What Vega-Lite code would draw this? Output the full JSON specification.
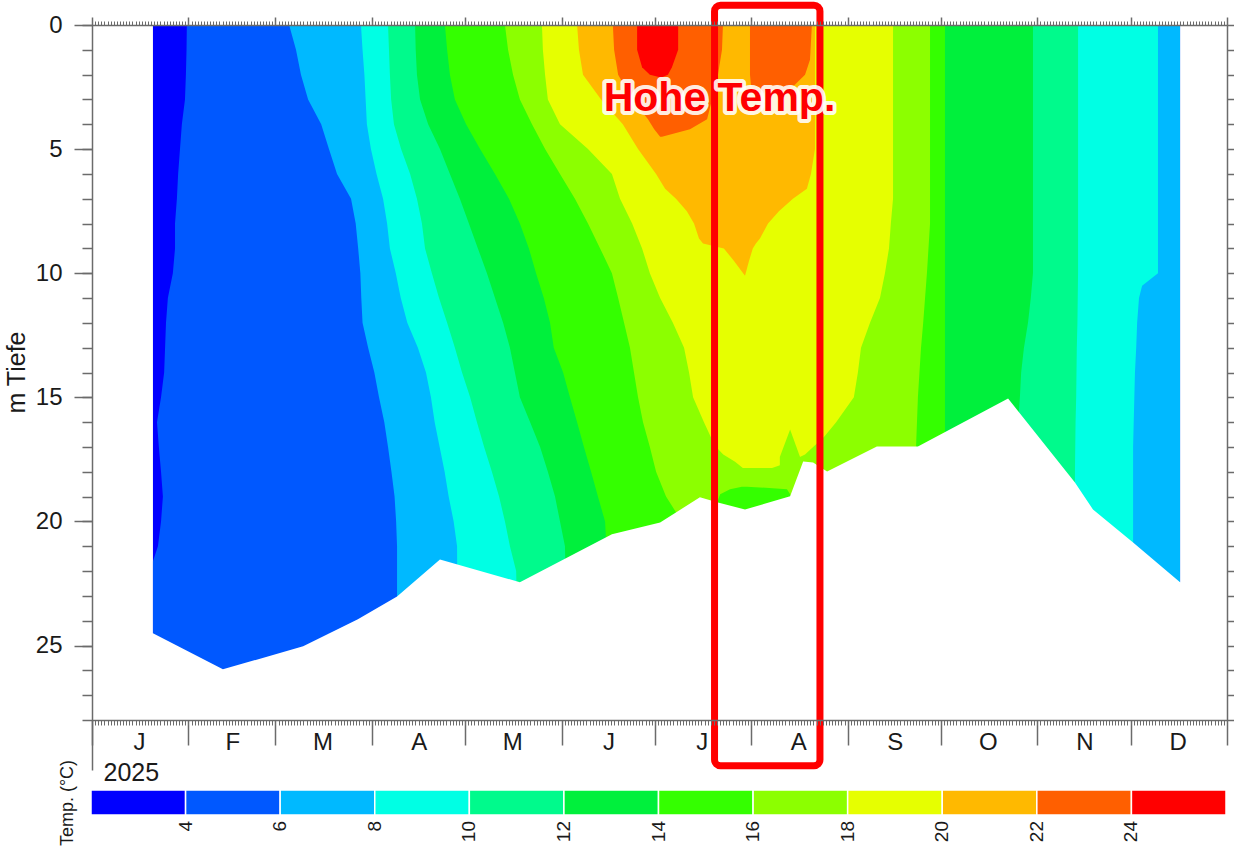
{
  "$schema": "https://vega.github.io/schema/vega-lite/v6.json",
  "width": 1135,
  "height": 695,
  "autosize": {"type": "none"},
  "padding": {"left": 92, "top": 25, "right": 7, "bottom": 135},
  "background": "white",
  "config": {
    "view": {"stroke": null},
    "font": "Liberation Sans"
  },
  "datasets": {
    "bands": [
      {"g": "r3", "t": 3, "d": 0, "a": 19.6, "b": 349.9},
      {"g": "r3", "t": 3, "d": 28, "a": 19.6, "b": 349.9},

      {"g": "r5", "t": 5, "d": 0, "a": 30.5, "b": 349.9},
      {"g": "r5", "t": 5, "d": 1, "a": 30.4, "b": 349.9},
      {"g": "r5", "t": 5, "d": 2, "a": 30.2, "b": 349.9},
      {"g": "r5", "t": 5, "d": 3, "a": 29.9, "b": 349.9},
      {"g": "r5", "t": 5, "d": 4, "a": 28.9, "b": 349.9},
      {"g": "r5", "t": 5, "d": 5, "a": 28.3, "b": 349.9},
      {"g": "r5", "t": 5, "d": 6, "a": 27.7, "b": 349.9},
      {"g": "r5", "t": 5, "d": 7, "a": 27.3, "b": 349.9},
      {"g": "r5", "t": 5, "d": 8, "a": 26.7, "b": 349.9},
      {"g": "r5", "t": 5, "d": 9, "a": 26.7, "b": 349.9},
      {"g": "r5", "t": 5, "d": 10, "a": 26.0, "b": 349.9},
      {"g": "r5", "t": 5, "d": 11, "a": 24.4, "b": 349.9},
      {"g": "r5", "t": 5, "d": 12, "a": 23.8, "b": 349.9},
      {"g": "r5", "t": 5, "d": 13, "a": 23.5, "b": 349.9},
      {"g": "r5", "t": 5, "d": 14, "a": 23.2, "b": 349.9},
      {"g": "r5", "t": 5, "d": 15, "a": 22.2, "b": 349.9},
      {"g": "r5", "t": 5, "d": 16, "a": 20.9, "b": 349.9},
      {"g": "r5", "t": 5, "d": 17, "a": 21.5, "b": 349.9},
      {"g": "r5", "t": 5, "d": 18, "a": 22.2, "b": 349.9},
      {"g": "r5", "t": 5, "d": 19, "a": 22.8, "b": 349.9},
      {"g": "r5", "t": 5, "d": 20, "a": 22.2, "b": 349.9},
      {"g": "r5", "t": 5, "d": 21, "a": 21.2, "b": 349.9},
      {"g": "r5", "t": 5, "d": 21.6, "a": 19.6, "b": 349.9},
      {"g": "r5", "t": 5, "d": 28, "a": 19.6, "b": 349.9},

      {"g": "r7", "t": 7, "d": 0, "a": 63.4, "b": 349.9},
      {"g": "r7", "t": 7, "d": 1, "a": 65.6, "b": 349.9},
      {"g": "r7", "t": 7, "d": 2, "a": 67.2, "b": 349.9},
      {"g": "r7", "t": 7, "d": 3, "a": 69.5, "b": 349.9},
      {"g": "r7", "t": 7, "d": 4, "a": 73.7, "b": 349.9},
      {"g": "r7", "t": 7, "d": 5, "a": 76.2, "b": 349.9},
      {"g": "r7", "t": 7, "d": 6, "a": 78.8, "b": 349.9},
      {"g": "r7", "t": 7, "d": 7, "a": 83.3, "b": 349.9},
      {"g": "r7", "t": 7, "d": 8, "a": 84.8, "b": 349.9},
      {"g": "r7", "t": 7, "d": 9, "a": 85.6, "b": 349.9},
      {"g": "r7", "t": 7, "d": 10, "a": 86.3, "b": 349.9},
      {"g": "r7", "t": 7, "d": 11, "a": 86.6, "b": 349.9},
      {"g": "r7", "t": 7, "d": 12, "a": 87.0, "b": 349.9},
      {"g": "r7", "t": 7, "d": 13, "a": 88.8, "b": 349.9},
      {"g": "r7", "t": 7, "d": 14, "a": 90.8, "b": 349.9},
      {"g": "r7", "t": 7, "d": 15, "a": 92.3, "b": 349.9},
      {"g": "r7", "t": 7, "d": 16, "a": 94.0, "b": 349.9},
      {"g": "r7", "t": 7, "d": 17, "a": 95.2, "b": 349.9},
      {"g": "r7", "t": 7, "d": 18, "a": 96.3, "b": 349.9},
      {"g": "r7", "t": 7, "d": 19, "a": 97.3, "b": 349.9},
      {"g": "r7", "t": 7, "d": 20, "a": 97.8, "b": 349.9},
      {"g": "r7", "t": 7, "d": 21, "a": 98.1, "b": 349.9},
      {"g": "r7", "t": 7, "d": 28, "a": 98.1, "b": 349.9},

      {"g": "r9", "t": 9, "d": 0, "a": 86.5, "b": 342.8},
      {"g": "r9", "t": 9, "d": 1, "a": 87.0, "b": 342.8},
      {"g": "r9", "t": 9, "d": 2, "a": 87.6, "b": 342.8},
      {"g": "r9", "t": 9, "d": 3, "a": 88.0, "b": 342.8},
      {"g": "r9", "t": 9, "d": 4, "a": 88.4, "b": 342.8},
      {"g": "r9", "t": 9, "d": 5, "a": 89.7, "b": 342.8},
      {"g": "r9", "t": 9, "d": 6, "a": 91.5, "b": 342.8},
      {"g": "r9", "t": 9, "d": 7, "a": 93.6, "b": 342.8},
      {"g": "r9", "t": 9, "d": 8, "a": 94.9, "b": 342.8},
      {"g": "r9", "t": 9, "d": 9, "a": 95.8, "b": 342.8},
      {"g": "r9", "t": 9, "d": 10, "a": 97.7, "b": 342.8},
      {"g": "r9", "t": 9, "d": 10.5, "a": 98.5, "b": 337.7},
      {"g": "r9", "t": 9, "d": 11, "a": 99.3, "b": 336.7},
      {"g": "r9", "t": 9, "d": 12, "a": 101.4, "b": 336.1},
      {"g": "r9", "t": 9, "d": 13, "a": 104.8, "b": 335.8},
      {"g": "r9", "t": 9, "d": 14, "a": 107.4, "b": 335.4},
      {"g": "r9", "t": 9, "d": 15, "a": 109.0, "b": 335.2},
      {"g": "r9", "t": 9, "d": 16, "a": 110.2, "b": 335.0},
      {"g": "r9", "t": 9, "d": 17, "a": 111.8, "b": 334.8},
      {"g": "r9", "t": 9, "d": 18, "a": 113.4, "b": 334.8},
      {"g": "r9", "t": 9, "d": 19, "a": 114.7, "b": 334.8},
      {"g": "r9", "t": 9, "d": 20, "a": 116.3, "b": 334.8},
      {"g": "r9", "t": 9, "d": 21, "a": 117.4, "b": 334.8},
      {"g": "r9", "t": 9, "d": 28, "a": 117.7, "b": 334.8},

      {"g": "r11", "t": 11, "d": 0, "a": 95.2, "b": 317.1},
      {"g": "r11", "t": 11, "d": 1, "a": 95.5, "b": 317.1},
      {"g": "r11", "t": 11, "d": 2, "a": 95.8, "b": 317.1},
      {"g": "r11", "t": 11, "d": 3, "a": 96.2, "b": 317.1},
      {"g": "r11", "t": 11, "d": 4, "a": 97.1, "b": 317.1},
      {"g": "r11", "t": 11, "d": 5, "a": 99.4, "b": 317.1},
      {"g": "r11", "t": 11, "d": 6, "a": 102.3, "b": 317.1},
      {"g": "r11", "t": 11, "d": 7, "a": 104.5, "b": 317.1},
      {"g": "r11", "t": 11, "d": 8, "a": 106.1, "b": 317.1},
      {"g": "r11", "t": 11, "d": 9, "a": 107.1, "b": 317.1},
      {"g": "r11", "t": 11, "d": 10, "a": 109.3, "b": 317.1},
      {"g": "r11", "t": 11, "d": 11, "a": 111.6, "b": 317.0},
      {"g": "r11", "t": 11, "d": 12, "a": 114.2, "b": 316.9},
      {"g": "r11", "t": 11, "d": 13, "a": 116.7, "b": 316.7},
      {"g": "r11", "t": 11, "d": 14, "a": 119.0, "b": 316.6},
      {"g": "r11", "t": 11, "d": 15, "a": 121.6, "b": 316.5},
      {"g": "r11", "t": 11, "d": 16, "a": 123.8, "b": 316.3},
      {"g": "r11", "t": 11, "d": 17, "a": 126.1, "b": 316.2},
      {"g": "r11", "t": 11, "d": 18, "a": 128.6, "b": 316.1},
      {"g": "r11", "t": 11, "d": 19, "a": 130.9, "b": 316.1},
      {"g": "r11", "t": 11, "d": 20, "a": 132.8, "b": 316.1},
      {"g": "r11", "t": 11, "d": 21, "a": 134.4, "b": 316.1},
      {"g": "r11", "t": 11, "d": 22, "a": 136.4, "b": 316.1},
      {"g": "r11", "t": 11, "d": 28, "a": 137.6, "b": 316.1},

      {"g": "r13", "t": 13, "d": 0, "a": 103.9, "b": 302.6},
      {"g": "r13", "t": 13, "d": 1, "a": 104.1, "b": 302.6},
      {"g": "r13", "t": 13, "d": 2, "a": 104.5, "b": 302.6},
      {"g": "r13", "t": 13, "d": 3, "a": 105.5, "b": 302.6},
      {"g": "r13", "t": 13, "d": 4, "a": 108.1, "b": 302.6},
      {"g": "r13", "t": 13, "d": 5, "a": 111.9, "b": 302.6},
      {"g": "r13", "t": 13, "d": 6, "a": 115.1, "b": 302.6},
      {"g": "r13", "t": 13, "d": 7, "a": 118.3, "b": 302.6},
      {"g": "r13", "t": 13, "d": 8, "a": 121.2, "b": 302.6},
      {"g": "r13", "t": 13, "d": 9, "a": 124.1, "b": 302.6},
      {"g": "r13", "t": 13, "d": 10, "a": 127.0, "b": 302.6},
      {"g": "r13", "t": 13, "d": 11, "a": 129.6, "b": 301.9},
      {"g": "r13", "t": 13, "d": 12, "a": 132.2, "b": 301.0},
      {"g": "r13", "t": 13, "d": 13, "a": 134.4, "b": 299.7},
      {"g": "r13", "t": 13, "d": 14, "a": 136.0, "b": 298.8},
      {"g": "r13", "t": 13, "d": 15, "a": 137.6, "b": 298.4},
      {"g": "r13", "t": 13, "d": 16, "a": 140.9, "b": 297.8},
      {"g": "r13", "t": 13, "d": 17, "a": 144.1, "b": 297.8},
      {"g": "r13", "t": 13, "d": 18, "a": 146.6, "b": 297.8},
      {"g": "r13", "t": 13, "d": 19, "a": 148.9, "b": 297.8},
      {"g": "r13", "t": 13, "d": 20, "a": 150.5, "b": 297.8},
      {"g": "r13", "t": 13, "d": 21, "a": 152.1, "b": 297.8},
      {"g": "r13", "t": 13, "d": 28, "a": 153.1, "b": 297.8},

      {"g": "r15", "t": 15, "d": 0, "a": 113.5, "b": 274.3},
      {"g": "r15", "t": 15, "d": 1, "a": 114.2, "b": 274.3},
      {"g": "r15", "t": 15, "d": 2, "a": 115.1, "b": 274.3},
      {"g": "r15", "t": 15, "d": 3, "a": 116.7, "b": 274.3},
      {"g": "r15", "t": 15, "d": 4, "a": 120.3, "b": 274.3},
      {"g": "r15", "t": 15, "d": 5, "a": 124.8, "b": 274.3},
      {"g": "r15", "t": 15, "d": 6, "a": 129.6, "b": 274.3},
      {"g": "r15", "t": 15, "d": 7, "a": 134.1, "b": 274.3},
      {"g": "r15", "t": 15, "d": 8, "a": 137.6, "b": 274.3},
      {"g": "r15", "t": 15, "d": 9, "a": 140.5, "b": 274.3},
      {"g": "r15", "t": 15, "d": 10, "a": 142.8, "b": 274.3},
      {"g": "r15", "t": 15, "d": 11, "a": 145.3, "b": 274.3},
      {"g": "r15", "t": 15, "d": 12, "a": 147.3, "b": 274.3},
      {"g": "r15", "t": 15, "d": 13, "a": 148.5, "b": 274.3},
      {"g": "r15", "t": 15, "d": 14, "a": 151.5, "b": 274.3},
      {"g": "r15", "t": 15, "d": 15, "a": 153.7, "b": 274.3},
      {"g": "r15", "t": 15, "d": 16, "a": 156.0, "b": 274.3},
      {"g": "r15", "t": 15, "d": 17, "a": 158.2, "b": 274.3},
      {"g": "r15", "t": 15, "d": 18, "a": 160.5, "b": 274.3},
      {"g": "r15", "t": 15, "d": 19, "a": 162.7, "b": 274.3},
      {"g": "r15", "t": 15, "d": 20, "a": 165.0, "b": 274.3},
      {"g": "r15", "t": 15, "d": 28, "a": 168.2, "b": 274.3},

      {"g": "r17", "t": 17, "d": 0, "a": 132.8, "b": 269.5},
      {"g": "r17", "t": 17, "d": 1, "a": 133.8, "b": 269.5},
      {"g": "r17", "t": 17, "d": 2, "a": 135.4, "b": 269.5},
      {"g": "r17", "t": 17, "d": 3, "a": 137.6, "b": 269.5},
      {"g": "r17", "t": 17, "d": 4, "a": 141.5, "b": 269.5},
      {"g": "r17", "t": 17, "d": 5, "a": 145.7, "b": 269.5},
      {"g": "r17", "t": 17, "d": 6, "a": 150.5, "b": 269.5},
      {"g": "r17", "t": 17, "d": 7, "a": 155.3, "b": 269.5},
      {"g": "r17", "t": 17, "d": 8, "a": 159.5, "b": 269.5},
      {"g": "r17", "t": 17, "d": 9, "a": 163.4, "b": 269.0},
      {"g": "r17", "t": 17, "d": 10, "a": 167.2, "b": 268.5},
      {"g": "r17", "t": 17, "d": 11, "a": 169.2, "b": 267.9},
      {"g": "r17", "t": 17, "d": 12, "a": 171.1, "b": 267.3},
      {"g": "r17", "t": 17, "d": 13, "a": 173.0, "b": 266.6},
      {"g": "r17", "t": 17, "d": 14, "a": 174.3, "b": 266.1},
      {"g": "r17", "t": 17, "d": 15, "a": 175.6, "b": 265.6},
      {"g": "r17", "t": 17, "d": 16, "a": 177.2, "b": 265.3},
      {"g": "r17", "t": 17, "d": 17, "a": 179.4, "b": 265.0},
      {"g": "r17", "t": 17, "d": 18, "a": 181.4, "b": 264.9},
      {"g": "r17", "t": 17, "d": 19, "a": 184.6, "b": 264.8},
      {"g": "r17", "t": 17, "d": 20, "a": 189.7, "b": 264.7},
      {"g": "r17", "t": 17, "d": 28, "a": 192.3, "b": 264.7},

      {"g": "r15b", "t": 15, "d": 18.6, "a": 209.0, "b": 210.6},
      {"g": "r15b", "t": 15, "d": 18.7, "a": 205.2, "b": 223.5},
      {"g": "r15b", "t": 15, "d": 18.9, "a": 202.0, "b": 224.5},
      {"g": "r15b", "t": 15, "d": 19.5, "a": 200.3, "b": 226.1},
      {"g": "r15b", "t": 15, "d": 28, "a": 200.3, "b": 226.1},

      {"g": "r19", "t": 19, "d": 0, "a": 144.7, "b": 257.6},
      {"g": "r19", "t": 19, "d": 1, "a": 145.0, "b": 257.6},
      {"g": "r19", "t": 19, "d": 2, "a": 145.7, "b": 257.6},
      {"g": "r19", "t": 19, "d": 3, "a": 146.6, "b": 257.6},
      {"g": "r19", "t": 19, "d": 4, "a": 150.5, "b": 257.6},
      {"g": "r19", "t": 19, "d": 5, "a": 159.5, "b": 257.6},
      {"g": "r19", "t": 19, "d": 6, "a": 167.2, "b": 257.6},
      {"g": "r19", "t": 19, "d": 7, "a": 169.8, "b": 257.6},
      {"g": "r19", "t": 19, "d": 8, "a": 173.7, "b": 256.9},
      {"g": "r19", "t": 19, "d": 9, "a": 176.9, "b": 256.3},
      {"g": "r19", "t": 19, "d": 10, "a": 179.4, "b": 255.0},
      {"g": "r19", "t": 19, "d": 11, "a": 182.7, "b": 253.4},
      {"g": "r19", "t": 19, "d": 12, "a": 186.8, "b": 250.2},
      {"g": "r19", "t": 19, "d": 13, "a": 190.4, "b": 247.3},
      {"g": "r19", "t": 19, "d": 14, "a": 192.0, "b": 246.3},
      {"g": "r19", "t": 19, "d": 15, "a": 193.3, "b": 245.0},
      {"g": "r19", "t": 19, "d": 16, "a": 196.8, "b": 239.3},
      {"g": "r19", "t": 19, "d": 16.6, "a": 199.0, "b": 235.4},
      {"g": "r19", "t": 19, "d": 17, "a": 200.7, "b": 231.9},
      {"g": "r19", "t": 19, "d": 17.3, "a": 203.0, "b": 229.3},
      {"g": "r19", "t": 19, "d": 17.6, "a": 206.8, "b": 224.5},
      {"g": "r19", "t": 19, "d": 17.85, "a": 209.3, "b": 218.7},

      {"g": "r17b", "t": 17, "d": 16.3, "a": 224.5, "b": 224.5},
      {"g": "r17b", "t": 17, "d": 17.4, "a": 221.2, "b": 227.7},
      {"g": "r17b", "t": 17, "d": 17.9, "a": 221.2, "b": 227.7},

      {"g": "r21", "t": 21, "d": 0, "a": 156.0, "b": 232.5},
      {"g": "r21", "t": 21, "d": 1, "a": 156.6, "b": 232.5},
      {"g": "r21", "t": 21, "d": 2, "a": 157.9, "b": 232.5},
      {"g": "r21", "t": 21, "d": 3, "a": 163.7, "b": 232.5},
      {"g": "r21", "t": 21, "d": 4, "a": 170.7, "b": 232.5},
      {"g": "r21", "t": 21, "d": 5, "a": 175.6, "b": 232.5},
      {"g": "r21", "t": 21, "d": 6, "a": 181.4, "b": 231.2},
      {"g": "r21", "t": 21, "d": 6.6, "a": 184.3, "b": 229.9},
      {"g": "r21", "t": 21, "d": 7, "a": 187.8, "b": 225.4},
      {"g": "r21", "t": 21, "d": 7.5, "a": 191.3, "b": 220.9},
      {"g": "r21", "t": 21, "d": 8, "a": 193.6, "b": 217.4},
      {"g": "r21", "t": 21, "d": 8.6, "a": 195.2, "b": 214.8},
      {"g": "r21", "t": 21, "d": 8.8, "a": 196.5, "b": 213.5},
      {"g": "r21", "t": 21, "d": 9.0, "a": 203.2, "b": 212.5},
      {"g": "r21", "t": 21, "d": 9.5, "a": 206.4, "b": 211.3},
      {"g": "r21", "t": 21, "d": 10.1, "a": 210.0, "b": 210.0},

      {"g": "r23a", "t": 23, "d": 0, "a": 167.5, "b": 202.9},
      {"g": "r23a", "t": 23, "d": 1, "a": 167.9, "b": 202.6},
      {"g": "r23a", "t": 23, "d": 2, "a": 169.2, "b": 201.3},
      {"g": "r23a", "t": 23, "d": 3, "a": 173.7, "b": 199.4},
      {"g": "r23a", "t": 23, "d": 3.8, "a": 178.8, "b": 197.8},
      {"g": "r23a", "t": 23, "d": 4.2, "a": 180.8, "b": 192.3},
      {"g": "r23a", "t": 23, "d": 4.5, "a": 182.7, "b": 183.3},

      {"g": "r23b", "t": 23, "d": 0, "a": 211.6, "b": 231.5},
      {"g": "r23b", "t": 23, "d": 1.4, "a": 211.6, "b": 230.9},
      {"g": "r23b", "t": 23, "d": 2, "a": 211.6, "b": 229.3},
      {"g": "r23b", "t": 23, "d": 2.4, "a": 211.9, "b": 226.1},
      {"g": "r23b", "t": 23, "d": 2.6, "a": 213.2, "b": 223.5},
      {"g": "r23b", "t": 23, "d": 2.75, "a": 215.5, "b": 218.7},

      {"g": "r25", "t": 25, "d": 0, "a": 175.3, "b": 188.5},
      {"g": "r25", "t": 25, "d": 1, "a": 175.3, "b": 188.5},
      {"g": "r25", "t": 25, "d": 1.7, "a": 176.9, "b": 186.5},
      {"g": "r25", "t": 25, "d": 2.0, "a": 179.4, "b": 185.2},
      {"g": "r25", "t": 25, "d": 2.1, "a": 182.7, "b": 183.3}
    ],
    "floor": [
      {"day": 19.2, "d": 24.51},
      {"day": 19.6, "d": 24.51},
      {"day": 42.1, "d": 25.96},
      {"day": 67.9, "d": 25.03},
      {"day": 85.5, "d": 23.94},
      {"day": 98.1, "d": 23.02},
      {"day": 111.9, "d": 21.53},
      {"day": 137.6, "d": 22.45},
      {"day": 167.2, "d": 20.52},
      {"day": 182.7, "d": 20.04},
      {"day": 195.5, "d": 19.03},
      {"day": 201.3, "d": 19.24},
      {"day": 210.0, "d": 19.52},
      {"day": 224.5, "d": 18.99},
      {"day": 228.7, "d": 17.59},
      {"day": 231.9, "d": 17.63},
      {"day": 236.4, "d": 17.99},
      {"day": 252.4, "d": 16.98},
      {"day": 265.6, "d": 16.98},
      {"day": 294.6, "d": 15.05},
      {"day": 316.1, "d": 18.43},
      {"day": 321.9, "d": 19.52},
      {"day": 334.8, "d": 20.85},
      {"day": 349.9, "d": 22.45},
      {"day": 350.3, "d": 22.45}
    ],
    "marker": [
      {"a": 200.2, "b": 234.1, "d1": -0.8, "d2": 29.84}
    ],
    "note": [
      {"day": 201.8, "d": 3.0, "label": "Hohe Temp."}
    ]
  },
  "layer": [
    {
      "data": {"name": "bands"},
      "mark": {"type": "area", "orient": "horizontal", "interpolate": "linear"},
      "encoding": {
        "y": {
          "field": "d", "type": "quantitative",
          "scale": {"domain": [0, 28], "reverse": true, "nice": false, "zero": false},
          "axis": {
            "orient": "left", "values": [0, 5, 10, 15, 20, 25],
            "tickSize": 18, "tickWidth": 1.5, "tickColor": "#6b6b6b",
            "domain": true, "domainColor": "#6b6b6b", "domainWidth": 1.5,
            "grid": false, "labelFontSize": 24, "labelPadding": 12, "labelColor": "#1a1a1a",
            "title": "m Tiefe", "titleFontSize": 25, "titleFontWeight": "normal", "titleColor": "#1a1a1a",
            "titleAngle": -90, "titleX": -76, "titleY": 347, "titleAlign": "center", "titleBaseline": "middle",
            "zindex": 1
          }
        },
        "x": {
          "field": "a", "type": "quantitative", "stack": null,
          "scale": {"domain": [0, 365], "nice": false, "zero": false},
          "axis": {
            "orient": "bottom",
            "values": [0, 31, 59, 90, 120, 151, 181, 212, 243, 273, 304, 334, 365],
            "tickSize": 25, "tickWidth": 1.5, "tickColor": "#6b6b6b",
            "domain": true, "domainColor": "#6b6b6b", "domainWidth": 1.5, "grid": false,
            "labelExpr": "datum.value == 365 ? '' : ['J','F','M','A','M','J','J','A','S','O','N','D'][indexof([0,31,59,90,120,151,181,212,243,273,304,334], datum.value)]",
            "labelOffset": {"condition": {"test": "datum.value == 31", "value": 44}, "value": 47},
            "labelAlign": "center", "labelBaseline": "middle", "labelPadding": -2.5,
            "labelFontSize": 24, "labelColor": "#1a1a1a",
            "labelOverlap": false, "labelBound": false, "labelFlush": false,
            "title": "2025", "titleFontSize": 25, "titleFontWeight": "normal", "titleColor": "#1a1a1a",
            "titleX": 11, "titleY": 60, "titleAlign": "left", "titleBaseline": "alphabetic",
            "zindex": 1
          }
        },
        "x2": {"field": "b"},
        "detail": {"field": "g"},
        "color": {
          "field": "t", "type": "quantitative",
          "scale": {
            "type": "threshold",
            "domain": [4, 6, 8, 10, 12, 14, 16, 18, 20, 22, 24],
            "range": ["#0000FF", "#0058FF", "#00B9FF", "#00FFE4", "#00FA8C", "#00F03C", "#34FF00", "#8CFF00", "#E6FF00", "#FFB900", "#FF5F00", "#FF0000"]
          },
          "legend": {
            "type": "gradient", "orient": "none", "direction": "horizontal",
            "legendX": -33, "legendY": 765, "padding": 0,
            "gradientLength": 1135, "gradientThickness": 25,
            "gradientStrokeColor": "white", "gradientStrokeWidth": 1.5,
            "title": "Temp. (°C)", "titleOrient": "left", "titleFontSize": 18, "titleFontWeight": "normal",
            "titleColor": "#1a1a1a", "titlePadding": 4,
            "labelFontSize": 19, "labelColor": "#1a1a1a", "labelOverlap": false,
            "labelOffset": 6,
            "encode": {
              "labels": {"update": {"angle": {"value": -90}, "align": {"value": "right"}, "baseline": {"value": "middle"}}},
              "title": {"update": {"angle": {"value": -90}, "align": {"value": "center"}, "baseline": {"value": "middle"}}}
            }
          }
        }
      }
    },
    {
      "data": {"name": "floor"},
      "mark": {"type": "area", "orient": "vertical", "color": "white"},
      "encoding": {
        "x": {
          "field": "day", "type": "quantitative",
          "axis": {
            "orient": "top", "tickCount": 365, "labels": false, "grid": false,
            "domain": true, "domainColor": "#6b6b6b", "domainWidth": 1.5,
            "tickColor": "#6b6b6b", "tickWidth": 1, "tickSize": 4,
            "title": null, "zindex": 1
          }
        },
        "y": {
          "field": "d", "type": "quantitative", "stack": null,
          "axis": {
            "orient": "left", "values": [0,1,2,3,4,5,6,7,8,9,10,11,12,13,14,15,16,17,18,19,20,21,22,23,24,25,26,27,28],
            "tickSize": 10, "tickWidth": 1.5, "tickColor": "#6b6b6b",
            "labels": false, "domain": false, "grid": false, "title": null, "zindex": 1
          }
        },
        "y2": {"datum": 28}
      }
    },
    {
      "data": {"name": "marker"},
      "mark": {"type": "rect", "filled": false, "color": "#FF0000", "strokeWidth": 7, "cornerRadius": 6, "strokeJoin": "round"},
      "encoding": {
        "x": {
          "field": "a", "type": "quantitative",
          "axis": {
            "orient": "bottom", "values": [0], "labels": false, "grid": false, "domain": false,
            "tickColor": "#6b6b6b", "tickWidth": 1.5, "tickSize": 50,
            "title": null, "zindex": 1
          }
        },
        "x2": {"field": "b"},
        "y": {
          "field": "d1", "type": "quantitative",
          "axis": {
            "orient": "right", "values": [0,1,2,3,4,5,6,7,8,9,10,11,12,13,14,15,16,17,18,19,20,21,22,23,24,25,26,27,28],
            "tickSize": 8, "tickWidth": 1.5, "tickColor": "#6b6b6b",
            "domain": true, "domainColor": "#6b6b6b", "domainWidth": 1.5,
            "labels": false, "grid": false, "title": null, "zindex": 1
          }
        },
        "y2": {"field": "d2"}
      }
    },
    {
      "data": {"name": "note"},
      "mark": {"type": "text", "font": "Liberation Sans", "fontWeight": "bold", "fontSize": 41, "align": "center", "baseline": "middle", "fill": "white", "stroke": "white", "strokeWidth": 8, "strokeJoin": "round", "strokeOpacity": 0.9},
      "encoding": {
        "x": {
          "field": "day", "type": "quantitative",
          "axis": {
            "orient": "bottom", "tickCount": 365, "labels": false, "grid": false, "domain": false,
            "tickColor": "#6b6b6b", "tickWidth": 1, "tickSize": 5,
            "title": null, "zindex": 1
          }
        },
        "y": {"field": "d", "type": "quantitative", "axis": null},
        "text": {"field": "label"}
      }
    },
    {
      "data": {"name": "note"},
      "mark": {"type": "text", "font": "Liberation Sans", "fontWeight": "bold", "fontSize": 41, "align": "center", "baseline": "middle", "fill": "#FF0000"},
      "encoding": {
        "x": {
          "field": "day", "type": "quantitative",
          "axis": {
            "orient": "top", "values": [0, 31, 59, 90, 120, 151, 181, 212, 243, 273, 304, 334, 365],
            "labels": false, "grid": false, "domain": false,
            "tickColor": "#6b6b6b", "tickWidth": 1.5, "tickSize": 8,
            "title": null, "zindex": 1
          }
        },
        "y": {"field": "d", "type": "quantitative", "axis": null},
        "text": {"field": "label"}
      }
    }
  ],
  "resolve": {"axis": {"x": "independent", "y": "independent"}}
}
